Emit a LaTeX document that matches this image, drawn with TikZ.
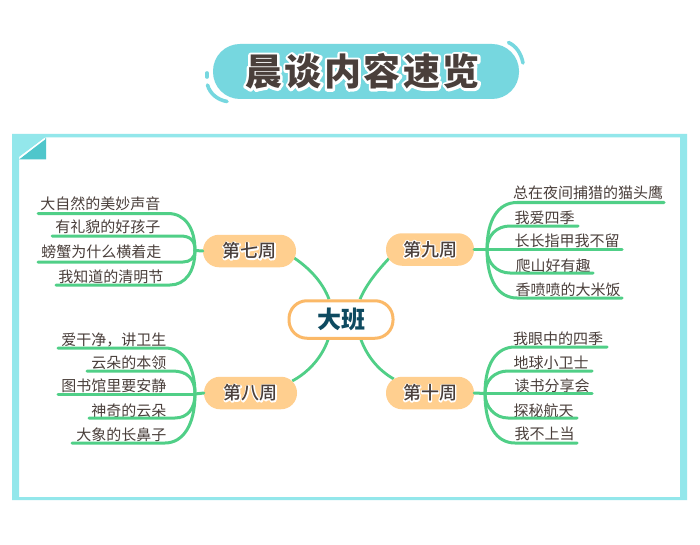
\documentclass[tikz,border=0pt]{standalone}
\usepackage{fontspec}
\usetikzlibrary{backgrounds}
\newfontfamily\cjk{Noto Sans CJK SC}
\newfontfamily\cjkmed{Noto Sans CJK SC Medium}
\newfontfamily\cjkblack{Noto Sans CJK SC Black}
\newfontfamily\cjktitle[LetterSpace=7]{Noto Sans CJK SC Black}
\definecolor{framec}{HTML}{93E7EB}
\definecolor{foldc}{HTML}{4FC6CB}
\definecolor{titlec}{HTML}{76D7DF}
\definecolor{inkc}{HTML}{4A3F3B}
\definecolor{greenc}{HTML}{50CF87}
\definecolor{weekc}{HTML}{FFCF8F}
\definecolor{rootc}{HTML}{FBB968}
\definecolor{rootink}{HTML}{0E4A60}
\newcommand{\halotext}[2]{\special{pdf:code q 1 Tr #1 w 1 1 1 RG 1 1 1 rg 1 j}\rlap{#2}\special{pdf:code Q}#2}
\tikzset{
  leaf/.style={inner sep=0pt,text=inkc,font=\cjk\fontsize{15}{15}\selectfont},
  branch/.style={draw=greenc,line width=3pt,line cap=round},
  link/.style={draw=greenc,line width=2.8pt},
  week/.style={fill=weekc,rectangle,rounded corners=16pt,minimum height=32.5pt,inner sep=0pt,text=inkc,font=\cjkmed\fontsize{18}{18}\selectfont},
  rootnode/.style={draw=rootc,line width=3pt,fill=white,rectangle,rounded corners=18pt,minimum width=104pt,minimum height=37.5pt,inner sep=0pt,text=rootink,font=\cjkblack\fontsize{24}{24}\selectfont},
  deco/.style={draw=titlec,line width=3.6pt,line cap=round}
}
\begin{document}
\begin{tikzpicture}[x=1pt,y=-1pt]
\useasboundingbox (0,0) rectangle (700,545);
% title
\node[fill=titlec,rectangle,rounded corners=27pt,minimum width=306pt,minimum height=55pt,inner sep=0pt,text=inkc,font=\cjktitle\fontsize{37}{37}\selectfont] (title) at (366,71.5) {\kern-7pt\halotext{5}{晨谈内容速览}};
\draw[deco] (508.5,42.5) .. controls (516,46) and (521,53) .. (523,63);
\draw[deco] (207.5,85) .. controls (210,94) and (218,100) .. (227,101.5);
\draw[deco] (207,73) -- (207,77);
% frame
\fill[framec,even odd rule] (12,134) rectangle (687,500) (19,137.5) rectangle (680,497);
\fill[framec] (19,137) -- (46,137) -- (19,157) -- cycle;
\fill[foldc] (46,138) -- (46,159.5) -- (19,159.5) -- cycle;
\draw[white,line width=1.5pt] (20,157.5) -- (45,138.5);
% nodes
\node[rootnode] (root) at (341,319.5) {\kern1pt 大班};
\node[week,minimum width=93pt] (w7) at (249.5,251) {\halotext{2.5}{第七周}};
\node[week,minimum width=88pt] (w9) at (430,249.5) {\halotext{2.5}{第九周}};
\node[week,minimum width=93pt] (w8) at (250.5,393) {\halotext{2.5}{第八周}};
\node[week,minimum width=88pt] (w10) at (430,393) {\halotext{2.5}{第十周}};
% leaves, week 7
\node[leaf,anchor=east] (a1) at (160.5,204) {大自然的美妙声音};
\node[leaf,anchor=east] (a2) at (160.5,227) {有礼貌的好孩子};
\node[leaf,anchor=east] (a3) at (161.5,252) {螃蟹为什么横着走};
\node[leaf,anchor=east] (a4) at (163.5,277) {我知道的清明节};
% leaves, week 8
\node[leaf,anchor=east] (b1) at (166.5,340) {爱干净，讲卫生};
\node[leaf,anchor=east] (b2) at (166.5,363) {云朵的本领};
\node[leaf,anchor=east] (b3) at (166.5,386) {图书馆里要安静};
\node[leaf,anchor=east] (b4) at (166.5,411) {神奇的云朵};
\node[leaf,anchor=east] (b5) at (166.5,435) {大象的长鼻子};
% leaves, week 9
\node[leaf,anchor=west] (c1) at (513,193) {总在夜间捕猎的猫头鹰};
\node[leaf,anchor=west] (c2) at (514.5,218) {我爱四季};
\node[leaf,anchor=west] (c3) at (514.5,241) {长长指甲我不留};
\node[leaf,anchor=west] (c4) at (515.5,266) {爬山好有趣};
\node[leaf,anchor=west] (c5) at (515.5,290) {香喷喷的大米饭};
% leaves, week 10
\node[leaf,anchor=west] (d1) at (513,339) {我眼中的四季};
\node[leaf,anchor=west] (d2) at (513.5,363) {地球小卫士};
\node[leaf,anchor=west] (d3) at (514.5,386) {读书分享会};
\node[leaf,anchor=west] (d4) at (513.5,411) {探秘航天};
\node[leaf,anchor=west] (d5) at (514.5,434) {我不上当};
% hubs and free line ends
\coordinate (h7) at (195,250.5);
\coordinate (h8) at (195,394);
\coordinate (h9) at (487,249.5);
\coordinate (h10) at (485,393.5);
\foreach \n/\x/\y in {a1/38/213.5,a2/52/236,a3/38/262,a4/56/285,
  b1/58/348,b2/87/371,b3/58/394,b4/89/418,b5/72/443,
  c1/664/202.5,c2/578/226,c3/622/249.5,c4/593/273,c5/622/298,
  d1/607/347,d2/592/371,d3/592/393.5,d4/577/418,d5/577/443}
  {\coordinate (e\n) at (\x,\y);}
\begin{scope}[on background layer]
\fill[white] (0,0) rectangle (700,545);
\draw[link] ([xshift=-5pt,yshift=-5pt]w7.east) .. controls (310,268) and (323,283) .. ([xshift=-12pt]root.north);
\draw[link] ([xshift=5pt,yshift=-7pt]w9.west) .. controls (377,271) and (366,285) .. ([xshift=19pt]root.north);
\draw[link] ([xshift=-5pt,yshift=12pt]w8.east) .. controls (309,372) and (322,357) .. ([xshift=-13pt]root.south);
\draw[link] ([xshift=8pt,yshift=14pt]w10.west) .. controls (378,370) and (367,356) .. ([xshift=20pt]root.south);
\end{scope}
% week 7 branches
\draw[branch] (w7.west) -- (h7);
\draw[branch] (ea1) -- (168,213.5) .. controls (185,213.5) and (195,228) .. (h7);
\draw[branch] (ea2) -- (180,236) .. controls (190,236) and (195,240) .. (h7);
\draw[branch] (ea3) -- (183,262) .. controls (190,262) and (195,258) .. (h7);
\draw[branch] (ea4) -- (170,285) .. controls (185,285) and (195,272) .. (h7);
% week 8 branches
\draw[branch] (w8.west) -- (h8);
\draw[branch] (eb1) -- (165,348) .. controls (183,348) and (195,365) .. (h8);
\draw[branch] (eb2) -- (172,371) .. controls (187,371) and (195,378) .. (h8);
\draw[branch] (eb3) -- (h8);
\draw[branch] (eb4) -- (175,418) .. controls (188,418) and (195,408) .. (h8);
\draw[branch] (eb5) -- (165,443) .. controls (183,443) and (195,425) .. (h8);
% week 9 branches
\draw[branch] (w9.east) -- (h9);
\draw[branch] (ec1) -- (517,202.5) .. controls (498,202.5) and (487,220) .. (h9);
\draw[branch] (ec2) -- (510,226) .. controls (497,226) and (487,235) .. (h9);
\draw[branch] (ec3) -- (h9);
\draw[branch] (ec4) -- (510,273) .. controls (497,273) and (487,263) .. (h9);
\draw[branch] (ec5) -- (517,298) .. controls (498,298) and (487,280) .. (h9);
% week 10 branches
\draw[branch] (w10.east) -- (h10);
\draw[branch] (ed1) -- (515,347) .. controls (496,347) and (485,364) .. (h10);
\draw[branch] (ed2) -- (508,371) .. controls (495,371) and (485,380) .. (h10);
\draw[branch] (ed3) -- (h10);
\draw[branch] (ed4) -- (508,418) .. controls (495,418) and (485,407) .. (h10);
\draw[branch] (ed5) -- (515,443) .. controls (496,443) and (485,425) .. (h10);
\end{tikzpicture}
\end{document}
